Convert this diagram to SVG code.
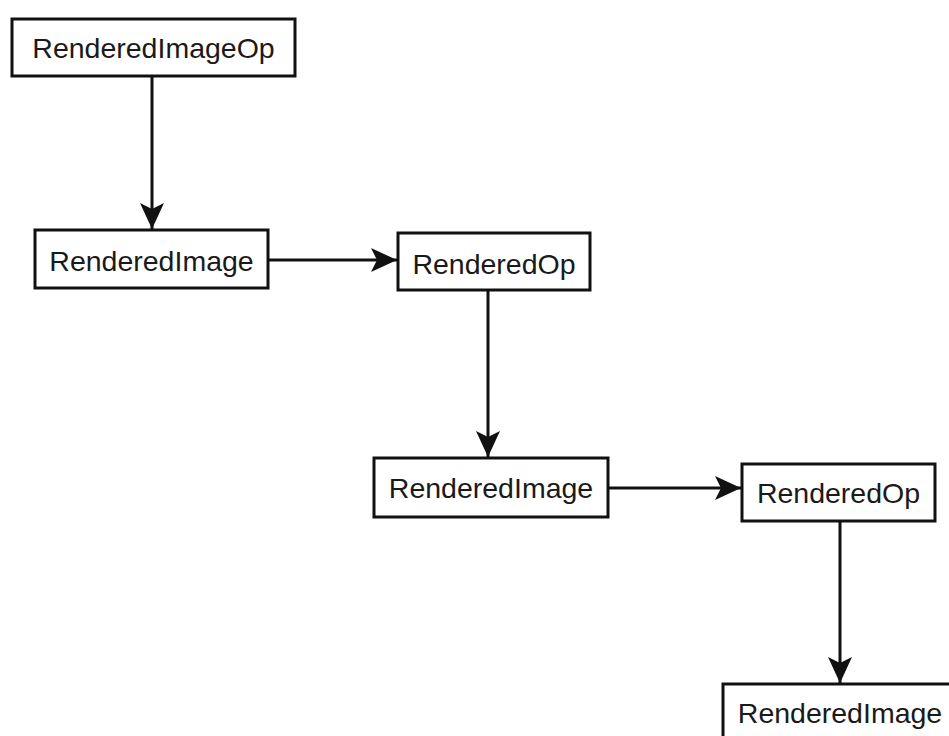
<svg xmlns="http://www.w3.org/2000/svg" width="949" height="736" viewBox="0 0 949 736">
  <style>
    .box { fill: #ffffff; stroke: #111111; stroke-width: 3; }
    .label { font-family: "Liberation Sans", Arial, sans-serif; font-size: 28.5px; fill: #1a1a1a; text-anchor: middle; }
    .edge { fill: none; stroke: #111111; stroke-width: 3; marker-end: url(#head); }
  </style>
  <defs>
    <marker id="head" markerUnits="userSpaceOnUse" markerWidth="28" markerHeight="26" refX="26" refY="12" orient="auto">
      <path d="M0,0 L26,12 L0,24 L6,12 Z" fill="#111111"/>
    </marker>
  </defs>
  <rect width="949" height="736" fill="#ffffff"/>

  <g id="connectors">
    <line class="edge" x1="152" y1="77" x2="152" y2="229"/>
    <line class="edge" x1="269" y1="260" x2="397" y2="260"/>
    <line class="edge" x1="488" y1="291" x2="488" y2="457"/>
    <line class="edge" x1="609" y1="488" x2="741" y2="488"/>
    <line class="edge" x1="840" y1="522" x2="840" y2="683"/>
  </g>

  <g id="op-source">
    <rect class="box" x="12" y="19" width="283" height="57"/>
    <text class="label" x="153.5" y="58">RenderedImageOp</text>
  </g>
  <g id="image-1">
    <rect class="box" x="35" y="230" width="233" height="58"/>
    <text class="label" x="151.5" y="271">RenderedImage</text>
  </g>
  <g id="op-1">
    <rect class="box" x="398" y="233" width="192" height="57"/>
    <text class="label" x="494" y="274">RenderedOp</text>
  </g>
  <g id="image-2">
    <rect class="box" x="374" y="458" width="234" height="59"/>
    <text class="label" x="491" y="498">RenderedImage</text>
  </g>
  <g id="op-2">
    <rect class="box" x="742" y="464" width="193" height="57"/>
    <text class="label" x="838.5" y="503">RenderedOp</text>
  </g>
  <g id="image-3">
    <rect class="box" x="723" y="684" width="235" height="60"/>
    <text class="label" x="840" y="723">RenderedImage</text>
  </g>
</svg>
